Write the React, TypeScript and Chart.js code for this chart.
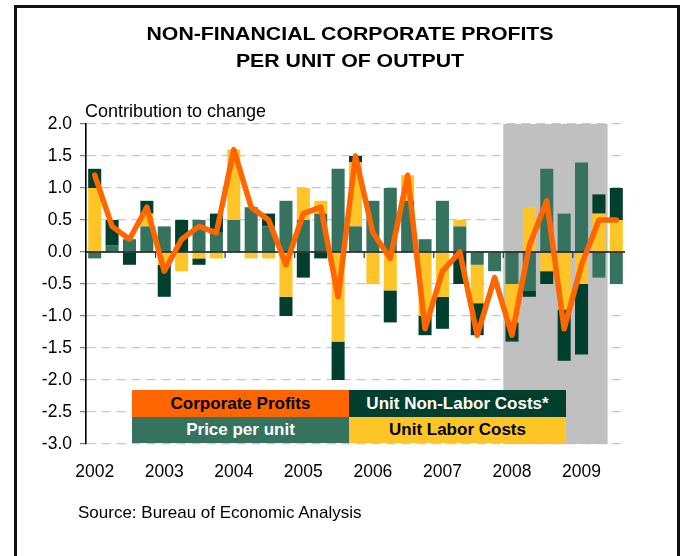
import React, { useEffect, useRef } from "react";
import { Chart, registerables } from "chart.js";

Chart.register(...registerables);

const FONT = '"Liberation Sans", Arial, Helvetica, sans-serif';

// ---- data ----
const categories = [
  "2002 Q1", "2002 Q2", "2002 Q3", "2002 Q4",
  "2003 Q1", "2003 Q2", "2003 Q3", "2003 Q4",
  "2004 Q1", "2004 Q2", "2004 Q3", "2004 Q4",
  "2005 Q1", "2005 Q2", "2005 Q3", "2005 Q4",
  "2006 Q1", "2006 Q2", "2006 Q3", "2006 Q4",
  "2007 Q1", "2007 Q2", "2007 Q3", "2007 Q4",
  "2008 Q1", "2008 Q2", "2008 Q3", "2008 Q4",
  "2009 Q1", "2009 Q2", "2009 Q3",
];
const tickLabels = [
  "2002", "", "", "",
  "2003", "", "", "",
  "2004", "", "", "",
  "2005", "", "", "",
  "2006", "", "", "",
  "2007", "", "", "",
  "2008", "", "", "",
  "2009", "", "",
];
const pricePerUnit = [
  -0.1, 0.1, 0.2, 0.4, 0.4, 0.0, 0.5, 0.3,
  0.5, 0.7, 0.4, 0.8, 0.5, 0.6, 1.3, 0.4,
  0.8, 1.0, 0.8, 0.2, 0.8, 0.4, -0.2, -0.3,
  -0.5, -0.6, 1.3, 0.6, 1.4, -0.4, -0.5,
];
const unitLaborCosts = [
  1.0, 0.0, 0.0, 0.2, -0.2, -0.3, -0.1, -0.1,
  1.1, -0.1, -0.1, -0.7, 0.5, 0.2, -1.4, 1.0,
  -0.5, -0.6, 0.4, -1.0, -0.7, 0.1, -0.6, 0.0,
  -0.6, 0.7, -0.3, -0.9, -0.5, 0.6, 0.5,
];
const unitNonLaborCosts = [
  0.3, 0.4, -0.2, 0.2, -0.5, 0.5, -0.1, 0.3,
  0.0, 0.0, 0.2, -0.3, -0.4, -0.1, -0.6, 0.1,
  0.0, -0.5, 0.0, -0.3, -0.5, -0.5, -0.5, 0.0,
  -0.3, -0.1, -0.2, -0.8, -1.1, 0.3, 0.5,
];
const corporateProfits = [
  1.2, 0.4, 0.2, 0.7, -0.3, 0.2, 0.4, 0.3,
  1.6, 0.7, 0.5, -0.2, 0.6, 0.7, -0.7, 1.5,
  0.3, -0.1, 1.2, -1.2, -0.3, 0.0, -1.3, -0.4,
  -1.3, 0.1, 0.8, -1.2, -0.2, 0.5, 0.5,
];
const recessionStart = "2008 Q1";
const recessionEnd = "2009 Q2";
const yMin = -3;
const yMax = 2;
const yStep = 0.5;

const COLORS = {
  price: "#35735E",
  nonLabor: "#003F2D",
  labor: "#FFC425",
  profits: "#FF6600",
  shade: "#C0C0C0",
};

const shadePlugin = {
  id: "shade",
  beforeDatasetsDraw(chart: any) {
    const { ctx, chartArea, scales } = chart;
    const x = scales.x;
    const i0 = categories.indexOf(recessionStart);
    const i1 = categories.indexOf(recessionEnd);
    const half = (x.getPixelForValue(1) - x.getPixelForValue(0)) / 2;
    const left = x.getPixelForValue(i0) - half;
    const right = x.getPixelForValue(i1) + half;
    ctx.save();
    ctx.fillStyle = COLORS.shade;
    ctx.fillRect(left, chartArea.top, right - left, chartArea.bottom - chartArea.top);
    ctx.restore();
  },
};

const zeroLinePlugin = {
  id: "zeroLine",
  beforeDatasetDraw(chart: any, args: any) {
    if (args.meta.type !== "line") return;
    const { ctx, chartArea, scales } = chart;
    const x = scales.x;
    const y0 = scales.y.getPixelForValue(0);
    const half = (x.getPixelForValue(1) - x.getPixelForValue(0)) / 2;
    ctx.save();
    ctx.strokeStyle = "#111";
    ctx.lineWidth = 1.6;
    ctx.setLineDash([]);
    ctx.beginPath();
    ctx.moveTo(chartArea.left, y0);
    ctx.lineTo(chartArea.right, y0);
    ctx.stroke();
    ctx.lineWidth = 1.2;
    ctx.strokeStyle = "#333";
    tickLabels.forEach((t, i) => {
      if (t && i > 0) {
        const px = x.getPixelForValue(i) - half;
        ctx.beginPath();
        ctx.moveTo(px, y0);
        ctx.lineTo(px, y0 + 6);
        ctx.stroke();
      }
    });
    ctx.restore();
  },
};

function CorporateChart() {
  const ref = useRef<HTMLCanvasElement | null>(null);
  useEffect(() => {
    if (!ref.current) return;
    Chart.defaults.font.family = FONT;
    const chart = new Chart(ref.current, {
      type: "bar",
      data: {
        labels: categories,
        datasets: [
          {
            label: "Price per unit",
            data: pricePerUnit,
            backgroundColor: COLORS.price,
            stack: "costs",
            order: 1,
            borderWidth: 0,
            barPercentage: 0.75,
            categoryPercentage: 1,
          },
          {
            label: "Unit Labor Costs",
            data: unitLaborCosts,
            backgroundColor: COLORS.labor,
            stack: "costs",
            order: 1,
            borderWidth: 0,
            barPercentage: 0.75,
            categoryPercentage: 1,
          },
          {
            label: "Unit Non-Labor Costs*",
            data: unitNonLaborCosts,
            backgroundColor: COLORS.nonLabor,
            stack: "costs",
            order: 1,
            borderWidth: 0,
            barPercentage: 0.75,
            categoryPercentage: 1,
          },
          {
            type: "line",
            label: "Corporate Profits",
            data: corporateProfits,
            borderColor: COLORS.profits,
            backgroundColor: COLORS.profits,
            borderWidth: 5.5,
            borderJoinStyle: "round",
            borderCapStyle: "round",
            pointRadius: 0,
            tension: 0,
            fill: false,
            stack: "profits",
            order: 0,
          } as any,
        ],
      },
      options: {
        animation: false,
        responsive: false,
        events: [],
        layout: { padding: { top: 124, right: 58, bottom: 72, left: 0 } },
        plugins: {
          legend: { display: false },
          tooltip: { enabled: false },
          title: { display: false },
        },
        scales: {
          x: {
            type: "category",
            stacked: true,
            offset: true,
            grid: { display: false },
            border: { display: false },
            ticks: {
              autoSkip: false,
              maxRotation: 0,
              minRotation: 0,
              padding: 10,
              color: "#000",
              font: { size: 17.5, family: FONT },
              callback: (_v: any, i: number) => tickLabels[i],
            },
            afterFit: (scale: any) => {
              scale.height = 40;
            },
          },
          y: {
            stacked: true,
            min: yMin,
            max: yMax,
            ticks: {
              stepSize: yStep,
              padding: 8,
              color: "#000",
              font: { size: 17.5, family: FONT },
              callback: (v: any) => Number(v).toFixed(1),
            },
            grid: {
              color: "#C8C8C8",
              lineWidth: 1.2,
              tickLength: 6,
              tickColor: "#777",
              tickWidth: 1.2,
              tickBorderDash: [],
            },
            border: { display: true, color: "#000", width: 1.6, dash: [9, 6] },
            afterFit: (scale: any) => {
              scale.width = 86;
            },
          },
        },
      },
      plugins: [shadePlugin, zeroLinePlugin],
    } as any);
    return () => chart.destroy();
  }, []);
  return (
    <canvas
      ref={ref}
      width={683}
      height={556}
      style={{ position: "absolute", left: 0, top: 0, width: 683, height: 556, display: "block" }}
    />
  );
}

const cellBase: React.CSSProperties = {
  position: "absolute",
  display: "flex",
  alignItems: "center",
  justifyContent: "center",
  fontFamily: FONT,
  fontWeight: "bold",
  fontSize: 17,
  whiteSpace: "nowrap",
};

export default function App() {
  return (
    <div
      style={{
        position: "absolute",
        left: 0,
        top: 0,
        width: 683,
        height: 556,
        overflow: "hidden",
        background: "#fff",
        fontFamily: FONT,
      }}
    >
      <CorporateChart />
      <div
        style={{
          position: "absolute",
          left: 14,
          top: 5,
          width: 666,
          height: 620,
          border: "3px solid #111",
          boxSizing: "border-box",
          pointerEvents: "none",
        }}
      />
      <div
        style={{
          position: "absolute",
          left: 0,
          top: 20,
          width: 700,
          textAlign: "center",
          fontWeight: "bold",
          fontSize: 19,
          lineHeight: "27px",
          transform: "scaleX(1.12)",
          transformOrigin: "350px 0",
          color: "#000",
        }}
      >
        <div>NON-FINANCIAL CORPORATE PROFITS</div>
        <div>PER UNIT OF OUTPUT</div>
      </div>
      <div
        style={{
          position: "absolute",
          left: 85,
          top: 101,
          fontSize: 18,
          lineHeight: "20px",
          color: "#000",
          whiteSpace: "nowrap",
        }}
      >
        Contribution to change
      </div>
      <div style={{ ...cellBase, left: 132, top: 390, width: 217, height: 27, background: COLORS.profits, color: "#000" }}>
        Corporate Profits
      </div>
      <div style={{ ...cellBase, left: 349, top: 390, width: 217, height: 27, background: COLORS.nonLabor, color: "#fff" }}>
        Unit Non-Labor Costs*
      </div>
      <div style={{ ...cellBase, left: 132, top: 417, width: 217, height: 26, background: COLORS.price, color: "#fff" }}>
        Price per unit
      </div>
      <div style={{ ...cellBase, left: 349, top: 417, width: 217, height: 26, background: COLORS.labor, color: "#000" }}>
        Unit Labor Costs
      </div>
      <div
        style={{
          position: "absolute",
          left: 78,
          top: 503,
          fontSize: 17,
          lineHeight: "20px",
          color: "#000",
          whiteSpace: "nowrap",
        }}
      >
        Source: Bureau of Economic Analysis
      </div>
    </div>
  );
}
